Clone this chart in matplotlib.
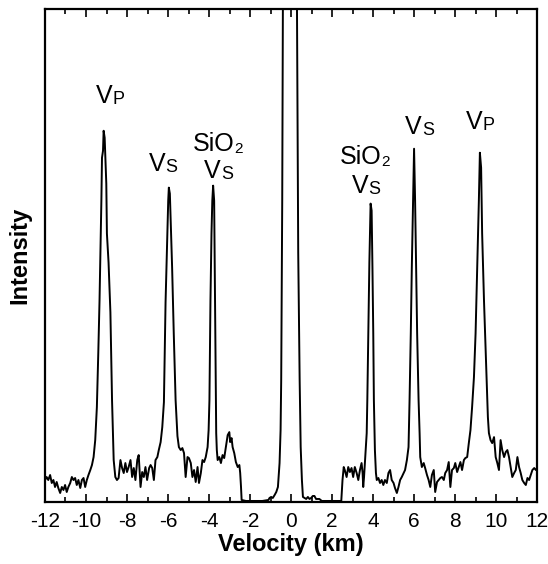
import matplotlib
matplotlib.use('Agg')
import matplotlib.pyplot as plt
from matplotlib.ticker import MultipleLocator

plt.rcParams['font.family'] = ['Liberation Sans', 'DejaVu Sans']
plt.rcParams['axes.unicode_minus'] = False

# velocity (km), left to right
velocity = [
    -12.00, -11.92, -11.84, -11.75, -11.67, -11.59, -11.51, -11.43, -11.35, -11.26,
    -11.18, -11.10, -11.02, -10.94, -10.86, -10.77, -10.69, -10.61, -10.53, -10.45,
    -10.37, -10.28, -10.20, -10.12, -10.04, -9.96, -9.88, -9.79, -9.71, -9.63,
    -9.55, -9.47, -9.40, -9.34, -9.25, -9.22, -9.17, -9.14, -9.09, -9.01,
    -8.98, -8.90, -8.81, -8.73, -8.65, -8.57, -8.49, -8.41, -8.32, -8.24,
    -8.16, -8.08, -8.00, -7.92, -7.83, -7.75, -7.67, -7.59, -7.50, -7.43,
    -7.34, -7.26, -7.18, -7.10, -7.02, -6.92, -6.85, -6.77, -6.69, -6.61,
    -6.52, -6.45, -6.36, -6.28, -6.20, -6.12, -6.03, -5.99, -5.96, -5.91,
    -5.80, -5.72, -5.63, -5.54, -5.47, -5.38, -5.30, -5.22, -5.14, -5.05,
    -4.98, -4.89, -4.81, -4.73, -4.65, -4.56, -4.49, -4.40, -4.32, -4.24,
    -4.16, -4.07, -4.02, -3.98, -3.93, -3.88, -3.84, -3.80, -3.75, -3.72,
    -3.68, -3.65, -3.62, -3.58, -3.50, -3.42, -3.34, -3.26, -3.18, -3.09,
    -3.01, -2.97, -2.90, -2.85, -2.77, -2.69, -2.60, -2.52, -2.48, -2.44,
    -2.41, -2.20, -1.80, -1.40, -1.10, -1.05, -0.97, -0.89, -0.80, -0.72,
    -0.64, -0.56, -0.51, -0.48, -0.43, -0.40, -0.30, -0.05, 0.20, 0.29,
    0.35, 0.42, 0.47, 0.53, 0.58, 0.66, 0.74, 0.82, 0.90, 0.98,
    1.06, 1.14, 1.22, 1.38, 1.50, 2.00, 2.45, 2.51, 2.57, 2.62,
    2.71, 2.79, 2.87, 2.95, 3.03, 3.11, 3.20, 3.28, 3.36, 3.44,
    3.49, 3.52, 3.56, 3.60, 3.64, 3.69, 3.72, 3.77, 3.82, 3.88,
    3.93, 3.97, 4.01, 4.04, 4.09, 4.14, 4.18, 4.26, 4.34, 4.42,
    4.50, 4.58, 4.67, 4.75, 4.83, 4.91, 5.00, 5.07, 5.16, 5.24,
    5.32, 5.40, 5.49, 5.56, 5.65, 5.73, 5.78, 5.84, 5.89, 6.00,
    6.05, 6.10, 6.15, 6.22, 6.27, 6.30, 6.38, 6.47, 6.54, 6.63,
    6.71, 6.79, 6.87, 6.96, 7.03, 7.12, 7.20, 7.28, 7.36, 7.45,
    7.52, 7.61, 7.69, 7.77, 7.85, 7.94, 8.01, 8.10, 8.18, 8.26,
    8.34, 8.43, 8.50, 8.59, 8.67, 8.75, 8.83, 8.92, 9.00, 9.08,
    9.16, 9.21, 9.27, 9.32, 9.41, 9.52, 9.60, 9.65, 9.73, 9.81,
    9.90, 9.98, 10.06, 10.14, 10.22, 10.30, 10.39, 10.47, 10.55, 10.63,
    10.71, 10.79, 10.88, 10.96, 11.04, 11.12, 11.20, 11.28, 11.37, 11.45,
    11.53, 11.61, 11.69, 11.77, 11.86, 11.94, 12.00,
]

# intensity (arbitrary units, top of frame = 494)
intensity = [
    22, 25, 22, 27, 19, 22, 15, 20, 14, 9,
    15, 12, 17, 10, 15, 19, 25, 22, 24, 17,
    22, 14, 22, 24, 15, 22, 27, 32, 37, 45,
    62, 95, 150, 202, 302, 345, 352, 372, 365, 319,
    269, 240, 190, 102, 42, 25, 22, 24, 42, 34,
    29, 39, 30, 35, 42, 25, 34, 22, 42, 47,
    15, 30, 25, 35, 22, 34, 37, 34, 22, 42,
    45, 52, 60, 75, 100, 200, 269, 302, 315, 309,
    235, 169, 102, 66, 55, 52, 54, 49, 25, 45,
    44, 39, 25, 32, 20, 35, 19, 29, 42, 40,
    45, 55, 72, 102, 202, 269, 302, 317, 302, 235,
    135, 69, 52, 42, 45, 39, 47, 44, 55, 67,
    70, 60, 64, 55, 49, 40, 35, 37, 29, 15,
    2, 1, 1, 1, 2, 4, 5, 4, 7, 10,
    15, 39, 72, 122, 302, 494, 800, 1000, 800, 494,
    250, 122, 55, 22, 5, 4, 3, 5, 3, 4,
    6, 6, 3, 3, 1, 1, 1, 22, 35, 32,
    25, 35, 30, 34, 25, 35, 29, 22, 32, 39,
    29, 15, 25, 39, 52, 69, 102, 169, 240, 299,
    292, 235, 169, 102, 52, 29, 22, 24, 19, 22,
    17, 22, 19, 29, 32, 22, 19, 14, 9, 15,
    22, 25, 29, 32, 42, 55, 102, 169, 235, 354,
    302, 235, 169, 102, 69, 45, 35, 39, 34, 27,
    22, 15, 27, 32, 10, 20, 22, 24, 25, 22,
    29, 32, 40, 15, 32, 34, 39, 30, 35, 40,
    32, 42, 44, 45, 59, 72, 95, 125, 169, 235,
    302, 350, 335, 269, 202, 135, 85, 69, 62, 59,
    65, 45, 39, 32, 62, 52, 45, 50, 52, 45,
    35, 25, 29, 32, 45, 35, 29, 22, 19, 17,
    24, 22, 27, 32, 34, 32, 34,
]

# peak labels: (x, baseline y, main text, subscript, alignment of main text)
peak_labels = [
    (-8.72, 400, 'V', 'P', 'right'),
    (-6.12, 332, 'V', 'S', 'right'),
    (-4.81, 352, 'SiO', '2', 'left'),
    (-3.42, 325, 'V', 'S', 'right'),
    (2.36, 339, 'SiO', '2', 'left'),
    (3.78, 310, 'V', 'S', 'right'),
    (6.38, 369, 'V', 'S', 'right'),
    (9.32, 374, 'V', 'P', 'right'),
]

fig = plt.figure(figsize=(5.48, 5.64), dpi=100)
ax = fig.add_axes([0.0821, 0.110, 0.898, 0.874])

ax.plot(velocity, intensity, color='black', lw=1.4)

ax.set_xlim(-12, 12)
ax.set_ylim(0, 494)

for x, y, main, sub, ha in peak_labels:
    t = ax.text(x, y, main, ha=ha, va='baseline', fontsize=18)
    sub_size = 11 if sub == '2' else 13
    ax.annotate(sub, xy=(1, 0), xycoords=t, ha='left', va='bottom',
                fontsize=sub_size)

ax.xaxis.set_major_locator(MultipleLocator(2))
ax.xaxis.set_minor_locator(MultipleLocator(1))
ax.tick_params(axis='x', which='both', direction='in', top=True,
               labelsize=15, pad=7, width=1.2)
ax.tick_params(axis='x', which='major', length=6)
ax.tick_params(axis='x', which='minor', length=3.5)
ax.set_yticks([])
for s in ax.spines.values():
    s.set_linewidth(1.6)

ax.set_xlabel('Velocity (km)', fontsize=17, fontweight='bold', labelpad=2)
ax.set_ylabel('Intensity', fontsize=17, fontweight='bold', labelpad=10)

fig.savefig('out.png', dpi=100)
